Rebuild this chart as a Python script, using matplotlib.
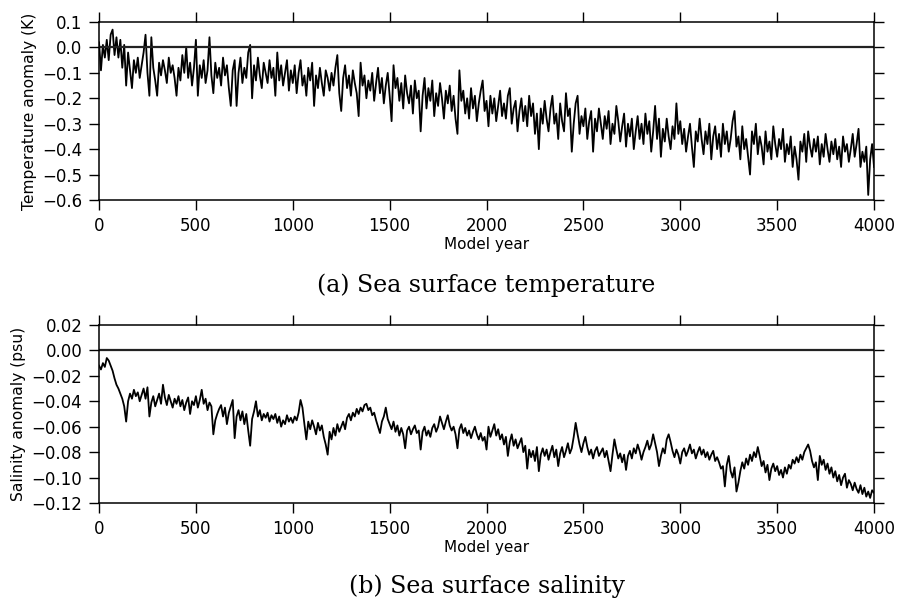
import numpy as np
import matplotlib
matplotlib.use("Agg")
import matplotlib.pyplot as plt

# model years, one value every 10 years
years = np.arange(0, 4001, 10)

# (a) sea surface temperature anomaly (K)
sst = [
    0.02, -0.09, 0.01, -0.04, 0.03, -0.05, 0.05, 0.07, -0.03, 0.04,
    -0.04, 0.03, -0.08, 0.01, -0.15, -0.02, -0.09, -0.16, -0.05, -0.10,
    -0.04, -0.12, -0.07, -0.02, 0.05, -0.10, -0.19, 0.04, -0.08, -0.13,
    -0.19, -0.06, -0.11, -0.05, -0.09, -0.14, -0.04, -0.10, -0.07, -0.12,
    -0.19, -0.08, -0.13, -0.03, -0.10, 0.00, -0.12, -0.06, -0.15, -0.08,
    0.03, -0.19, -0.07, -0.12, -0.05, -0.14, -0.09, 0.04, -0.11, -0.18,
    -0.06, -0.12, -0.08, -0.15, -0.04, -0.11, -0.07, -0.16, -0.23, -0.09,
    -0.05, -0.23, -0.10, -0.04, -0.14, -0.08, -0.12, -0.02, 0.01, -0.20,
    -0.07, -0.13, -0.04, -0.11, -0.16, -0.06, -0.10, -0.14, -0.05, -0.12,
    -0.08, -0.19, -0.02, -0.13, -0.07, -0.15, -0.10, -0.05, -0.17, -0.09,
    -0.14, -0.07, -0.18, -0.10, -0.05, -0.15, -0.11, -0.19, -0.08, -0.13,
    -0.06, -0.23, -0.11, -0.16, -0.08, -0.14, -0.19, -0.09, -0.12, -0.17,
    -0.10, -0.15, -0.08, -0.03, -0.18, -0.25, -0.12, -0.07, -0.16, -0.11,
    -0.19, -0.09, -0.14, -0.18, -0.27, -0.06, -0.15, -0.11, -0.20, -0.13,
    -0.17, -0.10, -0.21, -0.14, -0.08, -0.18, -0.12, -0.22, -0.15, -0.10,
    -0.19, -0.29, -0.07, -0.16, -0.12, -0.21, -0.14, -0.24, -0.11, -0.18,
    -0.22, -0.15, -0.26, -0.13, -0.20, -0.17, -0.33, -0.19, -0.12, -0.24,
    -0.16, -0.21, -0.13, -0.27, -0.18, -0.23, -0.14, -0.20, -0.28, -0.17,
    -0.22, -0.15, -0.25, -0.19, -0.28, -0.34, -0.09, -0.21, -0.17, -0.26,
    -0.20, -0.28, -0.16, -0.24, -0.19, -0.29, -0.22, -0.17, -0.13, -0.25,
    -0.21, -0.31, -0.19, -0.26, -0.20, -0.29, -0.23, -0.17, -0.27, -0.22,
    -0.28, -0.19, -0.16, -0.30, -0.24, -0.21, -0.33, -0.25, -0.20, -0.29,
    -0.23, -0.31, -0.19, -0.27, -0.22, -0.34, -0.26, -0.40, -0.24, -0.30,
    -0.21, -0.28, -0.33, -0.24, -0.19, -0.30, -0.26, -0.36, -0.22, -0.29,
    -0.33, -0.18, -0.27, -0.24, -0.41, -0.30, -0.22, -0.19, -0.34, -0.27,
    -0.31, -0.24, -0.36, -0.29, -0.25, -0.41, -0.28, -0.33, -0.24, -0.30,
    -0.36, -0.27, -0.32, -0.25, -0.38, -0.30, -0.34, -0.23, -0.29, -0.37,
    -0.31, -0.26, -0.39, -0.30, -0.35, -0.28, -0.40, -0.33, -0.27, -0.36,
    -0.30, -0.38, -0.26, -0.34, -0.29, -0.41, -0.33, -0.23, -0.36, -0.28,
    -0.43, -0.32, -0.37, -0.28, -0.35, -0.40, -0.31, -0.36, -0.22, -0.34,
    -0.29, -0.38, -0.32, -0.41, -0.35, -0.30, -0.39, -0.47, -0.33, -0.37,
    -0.28, -0.36, -0.42, -0.33, -0.38, -0.30, -0.44, -0.35, -0.31, -0.40,
    -0.34, -0.43, -0.30, -0.38, -0.33, -0.41, -0.36, -0.29, -0.25, -0.39,
    -0.35, -0.44, -0.31, -0.40, -0.36, -0.43, -0.50, -0.33, -0.38, -0.30,
    -0.42, -0.35, -0.39, -0.46, -0.33, -0.41, -0.37, -0.44, -0.31, -0.38,
    -0.43, -0.36, -0.40, -0.32, -0.45, -0.38, -0.42, -0.35, -0.47, -0.39,
    -0.44, -0.52, -0.37, -0.41, -0.34, -0.45, -0.33, -0.39, -0.43, -0.36,
    -0.41, -0.35, -0.46, -0.38, -0.43, -0.34, -0.40, -0.45, -0.37, -0.42,
    -0.36, -0.44, -0.39, -0.47, -0.35, -0.41, -0.38, -0.45, -0.40, -0.34,
    -0.43, -0.38, -0.32, -0.47, -0.41, -0.45, -0.39, -0.58, -0.44, -0.38,
    -0.47,
]

# (b) sea surface salinity anomaly (psu)
sss = [
    -0.012, -0.015, -0.010, -0.013, -0.006, -0.008, -0.012, -0.016, -0.022, -0.027,
    -0.030, -0.034, -0.038, -0.044, -0.056, -0.040, -0.034, -0.038, -0.031, -0.036,
    -0.033, -0.040, -0.035, -0.030, -0.038, -0.029, -0.052, -0.041, -0.036, -0.044,
    -0.039, -0.034, -0.042, -0.027, -0.037, -0.043, -0.035, -0.040, -0.045, -0.038,
    -0.042, -0.036, -0.044, -0.039, -0.047, -0.041, -0.037, -0.050, -0.040, -0.043,
    -0.036, -0.045, -0.039, -0.031, -0.042, -0.038, -0.047, -0.041, -0.044, -0.066,
    -0.055, -0.050, -0.046, -0.043, -0.052, -0.045, -0.058, -0.049, -0.044, -0.039,
    -0.069, -0.052, -0.047, -0.055, -0.048, -0.058, -0.050, -0.063, -0.075, -0.054,
    -0.048, -0.040, -0.052, -0.047, -0.055, -0.050, -0.053, -0.049, -0.056, -0.051,
    -0.054, -0.050, -0.057, -0.052, -0.060, -0.055, -0.058, -0.051, -0.056, -0.053,
    -0.057, -0.052, -0.055, -0.049, -0.039, -0.045, -0.058, -0.070, -0.056, -0.062,
    -0.055, -0.060, -0.066, -0.057, -0.063, -0.059, -0.068, -0.074, -0.082, -0.064,
    -0.070, -0.061, -0.067, -0.058, -0.064, -0.060, -0.056, -0.062, -0.053, -0.050,
    -0.055, -0.049, -0.052, -0.046, -0.050, -0.045, -0.048, -0.043, -0.042, -0.047,
    -0.045, -0.051, -0.049, -0.055, -0.060, -0.065, -0.056, -0.052, -0.045, -0.054,
    -0.058, -0.062, -0.056, -0.064, -0.059, -0.067, -0.061, -0.066, -0.077, -0.063,
    -0.060, -0.066, -0.062, -0.059, -0.065, -0.063, -0.078, -0.064, -0.060, -0.067,
    -0.063, -0.068, -0.061, -0.058, -0.064, -0.060, -0.052, -0.057, -0.062, -0.056,
    -0.051, -0.059, -0.063, -0.060, -0.066, -0.077, -0.062, -0.058, -0.065, -0.061,
    -0.067, -0.063, -0.069, -0.064, -0.060, -0.066, -0.070, -0.065, -0.071, -0.068,
    -0.078, -0.060, -0.068, -0.063, -0.058, -0.067, -0.062, -0.070, -0.066, -0.074,
    -0.068, -0.083, -0.072, -0.066, -0.075, -0.070, -0.077, -0.073, -0.069, -0.080,
    -0.075, -0.093, -0.078, -0.084, -0.079, -0.087, -0.076, -0.095, -0.082, -0.077,
    -0.083, -0.078, -0.086, -0.080, -0.075, -0.084, -0.078, -0.091, -0.081, -0.076,
    -0.084, -0.079, -0.073, -0.081, -0.077, -0.068, -0.057, -0.066, -0.074, -0.080,
    -0.073, -0.068, -0.076, -0.082, -0.078, -0.085, -0.079, -0.076, -0.083, -0.080,
    -0.077, -0.084, -0.079, -0.087, -0.095, -0.082, -0.070, -0.078, -0.085, -0.081,
    -0.088, -0.082, -0.094, -0.083, -0.079, -0.085, -0.077, -0.081, -0.074, -0.079,
    -0.086, -0.080, -0.076, -0.071, -0.078, -0.074, -0.066, -0.073, -0.080, -0.091,
    -0.083, -0.077, -0.081, -0.070, -0.066, -0.072, -0.079, -0.084, -0.078, -0.082,
    -0.089, -0.080, -0.077, -0.083, -0.079, -0.074, -0.081, -0.078, -0.085, -0.080,
    -0.076, -0.082, -0.078, -0.084, -0.080, -0.086, -0.082, -0.079, -0.087, -0.084,
    -0.088, -0.093, -0.091, -0.107, -0.090, -0.083, -0.095, -0.100, -0.092, -0.111,
    -0.104, -0.095, -0.088, -0.093, -0.085, -0.090, -0.082, -0.087, -0.080, -0.084,
    -0.076, -0.083, -0.091, -0.087, -0.096, -0.090, -0.102, -0.093, -0.089, -0.095,
    -0.091, -0.098, -0.094, -0.100, -0.092, -0.097, -0.090, -0.093, -0.086, -0.089,
    -0.084, -0.088, -0.082, -0.086, -0.080, -0.077, -0.074, -0.079, -0.087, -0.092,
    -0.088, -0.102, -0.083, -0.090, -0.086, -0.094, -0.089, -0.097, -0.092, -0.100,
    -0.095, -0.103, -0.098, -0.106, -0.100, -0.097, -0.108, -0.102, -0.105, -0.110,
    -0.104, -0.109, -0.112, -0.106, -0.113, -0.108, -0.115, -0.111, -0.116, -0.110,
    -0.112,
]

x_ticks = [0, 500, 1000, 1500, 2000, 2500, 3000, 3500, 4000]
sst_ticks = [0.1, 0.0, -0.1, -0.2, -0.3, -0.4, -0.5, -0.6]
sss_ticks = [0.02, 0.00, -0.02, -0.04, -0.06, -0.08, -0.10, -0.12]

fig = plt.figure(figsize=(8.97, 6.01), dpi=100)
ax1 = fig.add_axes([0.1104, 0.6672, 0.864, 0.2962])
ax2 = fig.add_axes([0.1104, 0.1631, 0.864, 0.2962])

panels = [
    (ax1, sst, sst_ticks, "%.1f", "Temperature anomaly (K)", "(a) Sea surface temperature", -0.48),
    (ax2, sss, sss_ticks, "%.2f", "Salinity anomaly (psu)", "(b) Sea surface salinity", -0.465),
]

for ax, series, yt, fmt, ylab, caption, cy in panels:
    ax.plot(years, series, color="black", lw=1.3)
    ax.axhline(0, color="#222222", lw=1.6)
    ax.set_xlim(0, 4000)
    ax.set_ylim(yt[-1], yt[0])
    ax.set_xticks(x_ticks)
    ax.set_yticks(yt)
    ax.set_yticklabels([(fmt % v).replace("-", "\u2212") for v in yt])
    ax.tick_params(direction="out", length=7, width=1.0, labelsize=12,
                   top=True, right=True, pad=5)
    for s in ax.spines.values():
        s.set_linewidth(1.1)
    ax.set_xlabel("Model year", fontsize=11, labelpad=2)
    ax.set_ylabel(ylab, fontsize=11.2, labelpad=4)
    ax.text(0.5, cy, caption, transform=ax.transAxes, ha="center",
            va="center", fontsize=17, family="DejaVu Serif")

fig.savefig("out.png", dpi=100)
